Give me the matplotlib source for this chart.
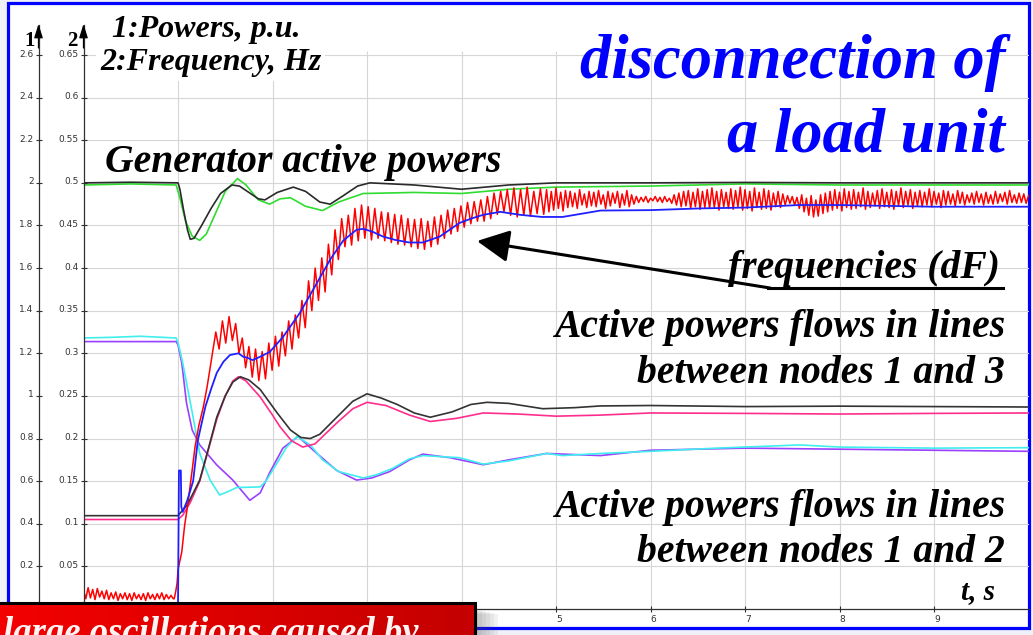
import numpy as np
import matplotlib
matplotlib.use('Agg')
import matplotlib.pyplot as plt
from matplotlib.patches import Rectangle, FancyArrowPatch
from matplotlib.lines import Line2D
import matplotlib.transforms as mtransforms
from matplotlib.colors import LinearSegmentedColormap

# ---------------- data ----------------
# axis 1 : powers, p.u.      axis 2 : frequency, Hz
p_ticks = [0.2, 0.4, 0.6, 0.8, 1.0, 1.2, 1.4, 1.6, 1.8, 2.0, 2.2, 2.4, 2.6]
p_labels = ['0.2', '0.4', '0.6', '0.8', '1', '1.2', '1.4', '1.6', '1.8', '2', '2.2', '2.4', '2.6']
f_ticks = [0.05, 0.1, 0.15, 0.2, 0.25, 0.3, 0.35, 0.4, 0.45, 0.5, 0.55, 0.6, 0.65]
f_labels = ['0.05', '0.1', '0.15', '0.2', '0.25', '0.3', '0.35', '0.4', '0.45', '0.5', '0.55', '0.6', '0.65']
t_ticks = [1, 2, 3, 4, 5, 6, 7, 8, 9]
# labels 1..4 lie under the red caption box in the original
t_labels = ['', '', '', '', '5', '6', '7', '8', '9']

# generator active powers
gen1_t = [0, 0.5, 1.0, 1.02, 1.06, 1.10, 1.13, 1.17, 1.25, 1.35, 1.45, 1.57, 1.65, 1.75, 1.85, 1.92,
          2.05, 2.22, 2.35, 2.50, 2.61, 2.75, 2.90, 3.03, 3.50, 4.00, 4.50, 5.00, 6.0, 7.0, 8.0, 9.0, 10.0]
gen1_p = [2.0, 2.003, 2.0, 1.97, 1.87, 1.78, 1.735, 1.74, 1.80, 1.88, 1.95, 1.99, 1.985, 1.955, 1.925, 1.92,
          1.955, 1.98, 1.96, 1.91, 1.90, 1.94, 1.985, 2.0, 1.99, 1.97, 1.99, 2.0, 2.0, 2.002, 2.0, 2.0, 2.0]
gen2_t = [0, 0.5, 0.98, 1.02, 1.08, 1.15, 1.23, 1.30, 1.40, 1.50, 1.63, 1.72, 1.85, 1.97, 2.08, 2.19,
          2.35, 2.53, 2.70, 2.96, 3.5, 4.0, 4.5, 5.0, 6.0, 7.0, 8.0, 9.0, 10.0]
gen2_p = [1.99, 1.995, 1.99, 1.93, 1.82, 1.75, 1.73, 1.76, 1.86, 1.96, 2.02, 1.99, 1.92, 1.90, 1.925, 1.93,
          1.89, 1.87, 1.91, 1.95, 1.955, 1.95, 1.97, 1.98, 1.985, 1.995, 1.99, 1.99, 1.99]

# active power flows, lines between nodes 1 and 3
l13a_t = [0, 1.0, 1.1, 1.23, 1.32, 1.41, 1.50, 1.58, 1.66, 1.75, 1.87, 1.96, 2.05, 2.19, 2.30, 2.40, 2.50,
          2.68, 2.85, 3.0, 3.15, 3.32, 3.50, 3.67, 3.90, 4.10, 4.27, 4.50, 4.86, 5.2, 5.47, 6.0, 7.0, 8.0, 9.0, 10.0]
l13a_p = [0.438, 0.438, 0.49, 0.605, 0.75, 0.90, 1.0, 1.065, 1.09, 1.075, 1.03, 0.975, 0.92, 0.84, 0.805, 0.80, 0.82,
          0.90, 0.975, 1.01, 0.99, 0.96, 0.92, 0.90, 0.925, 0.96, 0.97, 0.965, 0.94, 0.945, 0.953, 0.955, 0.95, 0.952, 0.95, 0.948]
l13b_t = [0, 1.0, 1.05, 1.13, 1.23, 1.41, 1.50, 1.58, 1.64, 1.72, 1.87, 2.0, 2.08, 2.2, 2.32, 2.45, 2.68,
          2.85, 3.0, 3.2, 3.45, 3.67, 3.95, 4.23, 4.6, 5.0, 5.47, 6.0, 7.0, 8.0, 9.0, 10.0]
l13b_p = [0.42, 0.42, 0.44, 0.50, 0.60, 0.89, 1.0, 1.07, 1.09, 1.07, 0.995, 0.91, 0.855, 0.79, 0.76, 0.775, 0.873,
          0.94, 0.97, 0.955, 0.91, 0.88, 0.895, 0.92, 0.915, 0.905, 0.91, 0.92, 0.918, 0.915, 0.918, 0.92]

# active power flows, lines between nodes 1 and 2
l12a_t = [0, 0.3, 0.6, 0.98, 1.0, 1.05, 1.16, 1.23, 1.34, 1.44, 1.55, 1.62, 1.87, 1.93, 2.0, 2.15, 2.26, 2.4,
          2.53, 2.7, 2.96, 3.1, 3.27, 3.45, 3.59, 3.98, 4.23, 4.5, 4.9, 5.07, 5.47, 6.0, 6.7, 7.58, 8.0, 9.0, 10.0]
l12a_p = [1.272, 1.275, 1.28, 1.272, 1.25, 1.155, 0.90, 0.73, 0.605, 0.535, 0.555, 0.57, 0.573, 0.60, 0.65, 0.76, 0.81, 0.77,
          0.70, 0.645, 0.615, 0.63, 0.66, 0.705, 0.72, 0.71, 0.68, 0.695, 0.73, 0.72, 0.73, 0.74, 0.755, 0.77, 0.76, 0.755, 0.757]
l12b_t = [0, 0.98, 1.0, 1.04, 1.09, 1.15, 1.23, 1.41, 1.58, 1.76, 1.87, 1.97, 2.11, 2.27, 2.47, 2.68, 2.89, 3.05,
          3.24, 3.45, 3.59, 3.88, 4.23, 4.5, 4.9, 5.47, 6.0, 7.0, 8.0, 9.0, 10.0]
l12b_p = [1.255, 1.255, 1.24, 1.155, 0.967, 0.84, 0.77, 0.676, 0.605, 0.51, 0.545, 0.64, 0.755, 0.81, 0.73, 0.65, 0.605, 0.615,
          0.645, 0.70, 0.727, 0.71, 0.677, 0.70, 0.73, 0.72, 0.745, 0.755, 0.75, 0.745, 0.74]

# frequencies (dF), Hz
blue_t = [0, 0.995, 1.0, 1.01, 1.03, 1.035, 1.05, 1.10, 1.16, 1.21, 1.29, 1.35, 1.41, 1.48, 1.55, 1.64, 1.69,
          1.73, 1.79, 1.85, 1.97, 2.11, 2.29, 2.47, 2.61, 2.75, 2.89, 2.96, 3.05, 3.17, 3.30, 3.45, 3.59, 3.77,
          3.98, 4.10, 4.23, 4.41, 4.62, 4.85, 5.07, 5.47, 6.0, 6.52, 7.0, 7.58, 8.0, 8.5, 8.99, 9.5, 10.0]
blue_hz = [0.0, 0.0, 0.0, 0.1625, 0.1625, 0.12, 0.114, 0.128, 0.15, 0.198, 0.2375, 0.258, 0.277, 0.29, 0.298, 0.30, 0.296,
           0.295, 0.292, 0.295, 0.3015, 0.319, 0.3475, 0.3825, 0.41, 0.4325, 0.445, 0.446, 0.443, 0.437, 0.433, 0.43, 0.43, 0.437,
           0.453, 0.458, 0.4625, 0.466, 0.4625, 0.46, 0.46, 0.4675, 0.468, 0.47, 0.471, 0.474, 0.474, 0.473, 0.472, 0.472, 0.472]

red_noise = [0.022, 0.012, 0.025, 0.013, 0.023, 0.011, 0.024, 0.014, 0.021, 0.012,
             0.022, 0.011, 0.019, 0.012, 0.020, 0.010, 0.018, 0.012, 0.019, 0.011,
             0.018, 0.010, 0.019, 0.012, 0.017, 0.011, 0.018, 0.010, 0.019, 0.012,
             0.017, 0.011, 0.018, 0.012, 0.019, 0.011, 0.017, 0.012, 0.016, 0.012]
red_rise_t = [0.96, 0.975, 0.99, 1.0, 1.04, 1.07, 1.10, 1.15, 1.18, 1.22, 1.27, 1.31, 1.35]
red_rise_hz = [0.012, 0.02, 0.03, 0.046, 0.067, 0.098, 0.12, 0.163, 0.19, 0.215, 0.238, 0.262, 0.29]
# oscillating part, 1.40 s .. 4.87 s
red_osc1 = [
    0.325, 0.305, 0.338, 0.312, 0.343, 0.315, 0.335, 0.300, 0.318, 0.283,
    0.308, 0.272, 0.305, 0.268, 0.302, 0.270, 0.312, 0.280, 0.320, 0.285,
    0.325, 0.297, 0.338, 0.305, 0.345, 0.318, 0.362, 0.330, 0.385, 0.350,
    0.400, 0.362, 0.412, 0.372, 0.428, 0.392, 0.445, 0.410, 0.458, 0.425,
    0.462, 0.427, 0.470, 0.432, 0.474, 0.435, 0.472, 0.433, 0.470, 0.435,
    0.466, 0.432, 0.465, 0.430, 0.463, 0.428, 0.462, 0.427, 0.458, 0.425,
    0.457, 0.423, 0.458, 0.422, 0.455, 0.425, 0.460, 0.428, 0.462, 0.435,
    0.468, 0.440, 0.470, 0.443, 0.473, 0.448, 0.477, 0.452, 0.478, 0.455,
    0.480, 0.455, 0.484, 0.458, 0.488, 0.463, 0.490, 0.466, 0.492, 0.462,
    0.494, 0.460, 0.492, 0.462, 0.495, 0.461, 0.490, 0.464, 0.493, 0.463]
# oscillating part, 4.90 s .. 10.0 s
red_osc2 = [
    0.492, 0.466, 0.490, 0.468, 0.494, 0.470, 0.489, 0.467, 0.491, 0.471,
    0.490, 0.472, 0.488, 0.470, 0.492, 0.474, 0.487, 0.471, 0.490, 0.473,
    0.489, 0.472, 0.491, 0.475, 0.486, 0.470, 0.490, 0.473, 0.488, 0.476,
    0.490, 0.471, 0.487, 0.474, 0.491, 0.472, 0.486, 0.475, 0.484, 0.477,
    0.483, 0.478, 0.484, 0.477, 0.482, 0.479, 0.484, 0.478, 0.483, 0.477,
    0.484, 0.478, 0.482, 0.476, 0.486, 0.474, 0.488, 0.472, 0.490, 0.473,
    0.491, 0.470, 0.489, 0.472, 0.493, 0.469, 0.490, 0.471, 0.492, 0.470,
    0.494, 0.471, 0.490, 0.468, 0.492, 0.472, 0.489, 0.470, 0.493, 0.469,
    0.491, 0.472, 0.495, 0.468, 0.492, 0.470, 0.490, 0.467, 0.494, 0.471,
    0.489, 0.469, 0.493, 0.470, 0.491, 0.468, 0.488, 0.472, 0.490, 0.471,
    0.487, 0.474, 0.485, 0.476, 0.484, 0.474, 0.483, 0.470, 0.486, 0.466,
    0.482, 0.462, 0.485, 0.460, 0.480, 0.461, 0.486, 0.464, 0.488, 0.466,
    0.490, 0.468, 0.492, 0.470, 0.489, 0.467, 0.493, 0.471, 0.490, 0.469,
    0.492, 0.470, 0.489, 0.472, 0.494, 0.469, 0.490, 0.471, 0.488, 0.473,
    0.491, 0.470, 0.493, 0.472, 0.489, 0.471, 0.492, 0.469, 0.490, 0.473,
    0.494, 0.471, 0.490, 0.474, 0.492, 0.470, 0.489, 0.473, 0.491, 0.472,
    0.489, 0.474, 0.493, 0.472, 0.490, 0.475, 0.488, 0.471, 0.491, 0.474,
    0.490, 0.475, 0.487, 0.473, 0.491, 0.476, 0.489, 0.474, 0.486, 0.477,
    0.488, 0.475, 0.490, 0.477, 0.487, 0.474, 0.489, 0.476, 0.486, 0.475,
    0.490, 0.476, 0.487, 0.478, 0.489, 0.475, 0.491, 0.477, 0.486, 0.476,
    0.488, 0.477, 0.487, 0.476, 0.485]

red_t = np.concatenate([np.linspace(0.0, 0.95, len(red_noise)), red_rise_t,
                        np.linspace(1.40, 4.87, len(red_osc1)),
                        np.linspace(4.90, 10.0, len(red_osc2))])
red_hz = np.concatenate([red_noise, red_rise_hz, red_osc1, red_osc2])

# ---------------- figure ----------------
W, H = 1033, 635
fig = plt.figure(figsize=(W / 100, H / 100), dpi=100, facecolor='#f0f0f8')


def fx(x):
    return x / W


def fy(y):
    return 1 - y / H


fig.add_artist(Rectangle((fx(8), fy(628)), 1021 / W, 625 / H, transform=fig.transFigure,
                         facecolor='white', edgecolor='#0000ff', lw=2.3, zorder=-5))

ax = fig.add_axes([fx(83.5), fy(609), 945 / W, 603 / H])
ax.set_facecolor('none')
ax.set_xlim(0, 10)
ax.set_ylim(0, 2.83)

grid_c = '#d6d6d6'
ax.hlines(p_ticks, 0, 10, color=grid_c, lw=0.8, zorder=0)
ax.vlines(t_ticks, 0, 2.62, color=grid_c, lw=0.8, zorder=0)

for s in ['top', 'right']:
    ax.spines[s].set_visible(False)
ax.spines['left'].set_position(('outward', 45 * 0.72))
ax.spines['left'].set_bounds(0, 2.74)
for s in ['left', 'bottom']:
    ax.spines[s].set_color('#303030')
    ax.spines[s].set_linewidth(0.9)

ax.set_yticks(p_ticks, p_labels)
ax.set_xticks(t_ticks, t_labels)
ax.tick_params(axis='y', direction='inout', length=4, width=0.8, labelsize=6.5,
               labelcolor='#333333', pad=1.5, color='#303030')
ax.tick_params(axis='x', direction='inout', length=5, width=0.8, labelsize=6.5,
               labelcolor='#333333', pad=2, color='#303030')
for lab in ax.get_xticklabels():
    lab.set_horizontalalignment('left')

ax2 = ax.twinx()
ax2.set_ylim(0, 2.83 / 4)
for s in ['top', 'right', 'bottom']:
    ax2.spines[s].set_visible(False)
ax2.spines['left'].set_visible(True)
ax2.spines['left'].set_bounds(0, 2.74 / 4)
ax2.spines['left'].set_color('#303030')
ax2.spines['left'].set_linewidth(0.9)
ax2.yaxis.tick_left()
ax2.set_yticks(f_ticks, f_labels)
ax2.tick_params(axis='y', direction='inout', length=4, width=0.8, labelsize=6.5,
                labelcolor='#333333', pad=1.5, color='#303030', left=True, right=False,
                labelleft=True, labelright=False)

off = mtransforms.ScaledTranslation(0, 2 / 100, fig.dpi_scale_trans)
for a in (ax, ax2):
    for lab in a.get_yticklabels():
        lab.set_transform(lab.get_transform() + off)

lw = 1.2
ax.plot(l12b_t, l12b_p, color='#9a40ff', lw=lw)
ax.plot(l12a_t, l12a_p, color='#40eeee', lw=lw)
ax.plot(l13b_t, l13b_p, color='#ff2d8c', lw=lw)
ax.plot(l13a_t, l13a_p, color='#333333', lw=lw)
ax.plot(gen2_t, gen2_p, color='#2fdc2f', lw=lw)
ax.plot(gen1_t, gen1_p, color='#2a2a2a', lw=lw)
ax2.plot(red_t, red_hz, color='#ff0000', lw=1.1)
ax2.plot(blue_t, blue_hz, color='#2020ff', lw=1.3)

# ---------------- texts ----------------
serif = 'Liberation Serif'


def ftext(x, y, s, size, color='black', ha='left', **kw):
    return fig.text(fx(x), fy(y), s, fontsize=size, color=color, ha=ha, va='baseline',
                    family=serif, weight='bold', style='italic', **kw)


ftext(112, 37, '1:Powers, p.u.', 23,
      bbox=dict(facecolor='white', edgecolor='none', pad=3))
ftext(100, 70, '2:Frequency, Hz', 23,
      bbox=dict(facecolor='white', edgecolor='none', pad=3))
ftext(1005, 78, 'disconnection of', 45, color='#0000ff', ha='right')
ftext(1005, 152, 'a load unit', 45, color='#0000ff', ha='right')
ftext(105, 172, 'Generator active powers', 28.5)
ftext(1000, 278, 'frequencies (dF)', 28.5, ha='right')
ftext(1005, 337, 'Active powers flows in lines', 28.5, ha='right')
ftext(1005, 383, 'between nodes 1 and 3', 28.5, ha='right')
ftext(1005, 517, 'Active powers flows in lines', 28.5, ha='right')
ftext(1005, 562, 'between nodes 1 and 2', 28.5, ha='right')
ftext(995, 599, 't, s', 21, ha='right')

fig.text(fx(24), fy(46), '1', fontsize=15, family=serif, weight='bold', va='baseline')
fig.text(fx(67), fy(46), '2', fontsize=15, family=serif, weight='bold', va='baseline')
for xa in (38.5, 83.5):
    fig.add_artist(FancyArrowPatch((fx(xa), fy(48)), (fx(xa), fy(24)), transform=fig.transFigure,
                                   arrowstyle='-|>,head_length=0.7,head_width=0.22',
                                   mutation_scale=12, color='black', lw=0.9, shrinkA=0, shrinkB=0))

# arrow to the frequency curves
fig.add_artist(Line2D([fx(768), fx(1003)], [fy(288), fy(288)], transform=fig.transFigure,
                      color='black', lw=2.2))
fig.add_artist(FancyArrowPatch((fx(770), fy(288)), (fx(477), fy(241)), transform=fig.transFigure,
                               arrowstyle='-|>,head_length=0.9,head_width=0.45',
                               mutation_scale=22, color='black', lw=2.2, shrinkA=0, shrinkB=0))

# red caption box at the bottom
for i in range(6):
    fig.add_artist(Rectangle((fx(470), fy(650)), (8 + 4 * i) / W, (650 - 609 - i) / H,
                             transform=fig.transFigure, facecolor='#505050', edgecolor='none',
                             alpha=0.07, zorder=9))
bax = fig.add_axes([fx(-5), fy(650), 480 / W, 47 / H])
bax.set_zorder(10)
cmap = LinearSegmentedColormap.from_list('redgrad', ['#f40000', '#c40000'])
bax.imshow(np.linspace(0, 1, 256).reshape(1, -1), aspect='auto', cmap=cmap, extent=(0, 1, 0, 1))
bax.set_axis_off()
fig.add_artist(Rectangle((fx(-5), fy(650)), 480 / W, 47 / H, transform=fig.transFigure,
                         fill=False, edgecolor='black', lw=2.2, zorder=11))
fig.text(fx(3), fy(643), 'large oscillations caused by', fontsize=26.5, color='#fff4f4',
         family=serif, weight='bold', style='italic', va='baseline', zorder=12)

fig.savefig('out.png', dpi=100, facecolor=fig.get_facecolor())
